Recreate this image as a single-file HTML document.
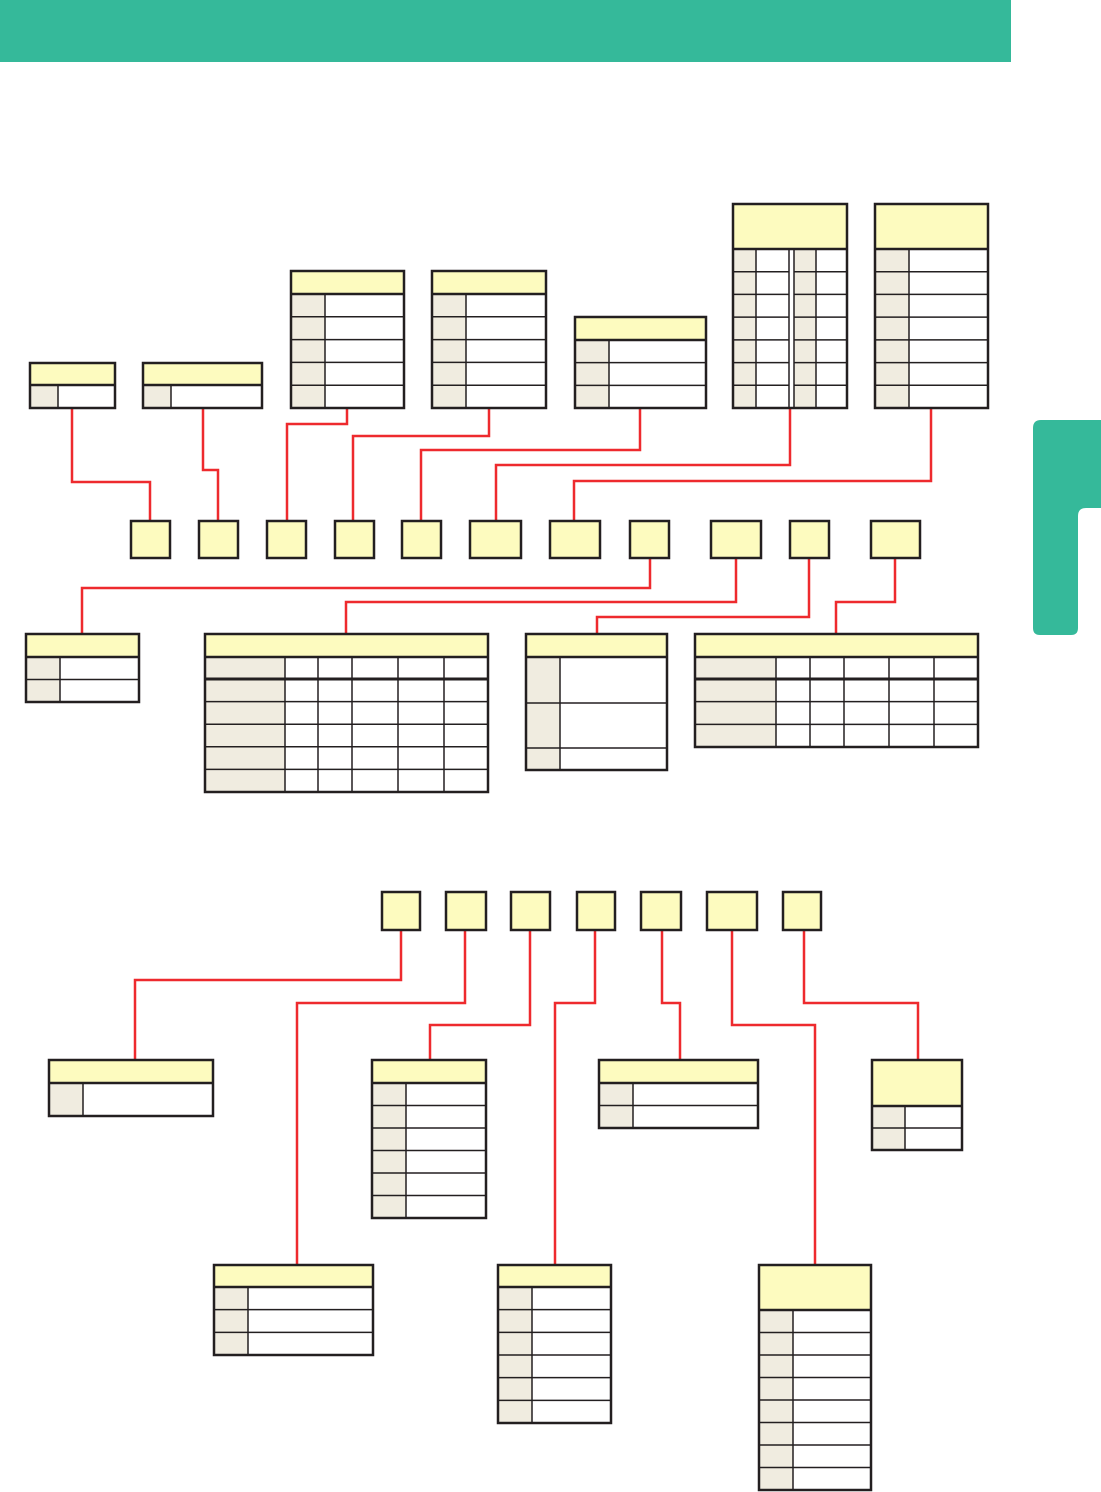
<!DOCTYPE html>
<html><head><meta charset="utf-8"><style>
html,body{margin:0;padding:0;background:#fff;width:1101px;height:1492px;overflow:hidden}
svg{display:block}
</style></head><body>
<svg id="s" width="1101" height="1492" xmlns="http://www.w3.org/2000/svg">
<rect x="0" y="0" width="1011" height="62" fill="#35b99a"/>
<path d="M1041,420 H1101 V508 H1086 Q1078,508 1078,516 V628 Q1078,635 1071,635 H1040 Q1033,635 1033,628 V428 Q1033,420 1041,420 Z" fill="#35b99a"/>
<g id="g"></g>
</svg>
<script>
var g=document.getElementById('g'),NS='http://www.w3.org/2000/svg',out='';
var Y='#fdfbbf',B='#f0ece0',K='#231f20',R='#ee2a2e';
function rect(x,y,w,h,f){out+='<rect x="'+x+'" y="'+y+'" width="'+w+'" height="'+h+'" fill="'+f+'"/>';}
function ln(x1,y1,x2,y2,w){out+='<line x1="'+x1+'" y1="'+y1+'" x2="'+x2+'" y2="'+y2+'" stroke="'+K+'" stroke-width="'+(w||1.5)+'"/>';}
function box(x1,y1,x2,y2,f){out+='<rect x="'+x1+'" y="'+y1+'" width="'+(x2-x1)+'" height="'+(y2-y1)+'" fill="'+(f||'none')+'" stroke="'+K+'" stroke-width="2.5"/>';}
function T(x1,y1,x2,y2,hb,n,kx){
 rect(x1,y1,x2-x1,hb-y1,Y);rect(x1,hb,kx-x1,y2-hb,B);rect(kx,hb,x2-kx,y2-hb,'#fff');
 var h=(y2-hb)/n;for(var i=1;i<n;i++)ln(x1,hb+i*h,x2,hb+i*h);
 ln(kx,hb,kx,y2);ln(x1,hb,x2,hb,2.5);box(x1,y1,x2,y2);}
function TR(x1,y1,x2,y2,hb,rows,kx){
 rect(x1,y1,x2-x1,hb-y1,Y);rect(x1,hb,kx-x1,y2-hb,B);rect(kx,hb,x2-kx,y2-hb,'#fff');
 rows.forEach(function(r){ln(x1,r,x2,r);});ln(kx,hb,kx,y2);ln(x1,hb,x2,hb,2.5);box(x1,y1,x2,y2);}
function G(x1,y1,x2,y2,hb,hr,n,cols){
 rect(x1,y1,x2-x1,hb-y1,Y);rect(x1,hb,cols[0]-x1,y2-hb,B);rect(cols[0],hb,x2-cols[0],y2-hb,'#fff');
 var h=(y2-hr)/n;for(var i=1;i<n;i++)ln(x1,hr+i*h,x2,hr+i*h);
 cols.forEach(function(c){ln(c,hb,c,y2);});ln(x1,hr,x2,hr,3);ln(x1,hb,x2,hb,2.5);box(x1,y1,x2,y2);}
function W(pts){out+='<polyline points="'+pts+'" fill="none" stroke="'+R+'" stroke-width="2.5"/>';}
function SB(x1,y1,x2,y2){box(x1,y1,x2,y2,Y);}
// connectors first
W('72,408 72,482 150,482 150,521');W('203,408 203,470 218,470 218,521');
W('347,408 347,424 287,424 287,521');W('489,408 489,436 353,436 353,521');
W('640,408 640,450 421,450 421,521');W('790,408 790,465 496,465 496,521');
W('931,408 931,481 574,481 574,521');
W('650,558 650,588 82,588 82,634');W('736,558 736,602 346,602 346,634');
W('809,558 809,617 597,617 597,634');W('895,558 895,602 836,602 836,634');
W('401,930 401,980 135,980 135,1060');W('465,930 465,1003 297,1003 297,1265');
W('530,930 530,1025 430,1025 430,1060');W('595,930 595,1003 555,1003 555,1265');
W('662,930 662,1003 680,1003 680,1060');W('732,930 732,1025 815,1025 815,1265');
W('804,930 804,1003 918,1003 918,1060');
// top tables
T(30,363,115,408,385,1,58);T(143,363,262,408,385,1,171);
T(291,271,404,408,294,5,325);T(432,271,546,408,294,5,466);
T(575,317,706,408,340,3,609);
// T6 double
(function(){var x1=733,y1=204,x2=847,y2=408,hb=249;
 rect(x1,y1,x2-x1,hb-y1,Y);rect(733,hb,23,y2-hb,B);rect(756,hb,33,y2-hb,'#fff');rect(789,hb,5,y2-hb,'#fff');rect(794,hb,22,y2-hb,B);rect(816,hb,31,y2-hb,'#fff');
 var h=(y2-hb)/7;for(var i=1;i<7;i++){ln(733,hb+i*h,789,hb+i*h);ln(794,hb+i*h,847,hb+i*h);}
 [756,789,794,816].forEach(function(c){ln(c,hb,c,y2);});ln(x1,hb,x2,hb,2.5);box(x1,y1,x2,y2);})();
T(875,204,988,408,249,7,909);
// small boxes
[[131,170],[199,238],[267,306],[335,374],[402,441],[470,521],[550,600],[630,669],[711,761],[790,829],[871,920]].forEach(function(b){SB(b[0],521,b[1],558);});
[[382,420],[446,486],[511,550],[577,615],[641,681],[707,757],[783,821]].forEach(function(b){SB(b[0],892,b[1],930);});
// middle tables
T(26,634,139,702,657,2,60);
G(205,634,488,792,657,679,5,[285,318,352,398,444]);
TR(526,634,667,770,657,[703,748],560);
G(695,634,978,747,657,679,3,[776,810,844,889,934]);
// bottom tables
T(49,1060,213,1116,1083,1,83);T(372,1060,486,1218,1083,6,406);
T(599,1060,758,1128,1083,2,633);T(872,1060,962,1150,1106,2,905);
T(214,1265,373,1355,1287,3,248);T(498,1265,611,1423,1287,6,532);
T(759,1265,871,1490,1310,8,793);
g.innerHTML=out;
</script>
</body></html>
